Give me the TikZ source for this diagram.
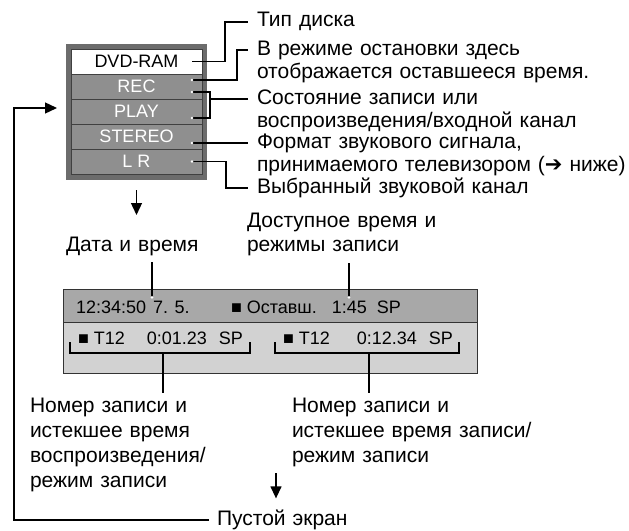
\documentclass[tikz,border=0pt]{standalone}
\usepackage{fontspec}
\setmainfont{Liberation Sans}
\newfontfamily\symfont{DejaVu Sans}
\usetikzlibrary{arrows.meta,positioning}
\definecolor{frameGray}{RGB}{108,108,108}
\definecolor{rowGray}{RGB}{143,143,143}
\definecolor{barGray}{RGB}{168,168,168}
\definecolor{paneGray}{RGB}{210,210,210}

\begin{document}
\begin{tikzpicture}[x=1pt, y=-1pt, line width=1.3pt,
      every node/.style={inner sep=0pt, outer sep=0pt},
      lbl/.style={anchor=base west, align=left, text width=370pt, font=\fontsize{21}{23}\selectfont},
      lowlbl/.style={lbl, font=\fontsize{21}{25}\selectfont},
      row/.style={draw=black!75, line width=0.9pt, fill=rowGray, text=white,
                  minimum width=131pt, minimum height=25pt, font=\fontsize{18}{20}\selectfont},
      osd/.style={anchor=base west, font=\fontsize{18}{22}\selectfont},
      arr/.style={-{Triangle[length=12pt, width=11pt]}}]
      \useasboundingbox (0,0) rectangle (629,530);
      \node[fill=frameGray, minimum width=141pt, minimum height=136pt] (frame) at (136.5,112) {};
      \node[row, fill=white, text=black] (dvd) at (136.5,61.5) {DVD-RAM};
      \node[row, below=0pt of dvd] (rec) {REC};
      \node[row, below=0pt of rec] (play) {PLAY};
      \node[row, below=0pt of play] (stereo) {STEREO};
      \node[row, below=0pt of stereo] (lr) {L R};
      \node[lbl] (disc) at (257,27) {Тип диска};
      \node[lbl] (stop) at (257,55) {В режиме остановки здесь\\отображается оставшееся время.};
      \node[lbl] (state) at (257,104) {Состояние записи или\\воспроизведения/входной канал};
      \node[lbl] (format) at (257,148) {Формат звукового сигнала,\\принимаемого телевизором ({\symfont ➔} ниже)};
      \node[lbl] (chan) at (257,193) {Выбранный звуковой канал};
      \coordinate (pDvd) at ([xshift=-10pt]dvd.east);
      \coordinate (pRec) at ([xshift=-10pt,yshift=6.5pt]rec.east);
      \coordinate (pRecB) at ([xshift=-10pt,yshift=-5.5pt]rec.east);
      \coordinate (pPlay) at ([xshift=-10pt,yshift=-6.5pt]play.east);
      \coordinate (pStereo) at ([xshift=-10pt,yshift=-6.5pt]stereo.east);
      \coordinate (pLr) at ([xshift=-10pt]lr.east);
      \draw (pDvd) -- ++(33,0) |- ([xshift=-9pt,yshift=5pt]disc.base west);
      \draw (pRec) -- ++(45,0) |- ([xshift=-9pt,yshift=5pt]stop.base west);
      \draw (pRecB) -| ([xshift=8pt,yshift=-6.5pt]play.east) -- (pPlay);
      \draw ([xshift=-9pt,yshift=5pt]state.base west) -- ++(-38,0);
      \draw (pStereo) -- ([xshift=-9pt,yshift=5pt]format.base west);
      \draw (pLr) -- ++(34,0) |- ([xshift=-9pt,yshift=5pt]chan.base west);
      \foreach \p in {pRec,pRecB,pPlay,pStereo,pLr}
        \fill[white] (\p) circle (1.4pt);
      \draw[arr] ([yshift=-10pt]frame.south) -- ++(0,25);
      \node[lbl] (date) at (66,251) {Дата и время};
      \node[lbl, font=\fontsize{21}{24}\selectfont] (avail) at (247,227) {Доступное время и\\режимы записи};
      \node[draw=black!80, line width=1pt, fill=barGray, minimum width=414pt, minimum height=33pt,
            anchor=north west] (bar) at (63,289) {};
      \node[draw=black!80, line width=1pt, fill=paneGray, minimum width=414pt, minimum height=51pt,
            below=0pt of bar] (pane) {};
      \node[osd] (clock) at (76,313) {12:34:50\hspace{7pt}7. 5.};
      \node[osd] (remain) at (231,313) {■ Оставш.\hspace{15pt}1:45\hspace{10pt}SP};
      \node[osd] (trackA) at (78,344) {■ T12\hspace{22pt}0:01.23\hspace{12pt}SP};
      \node[osd] (trackB) at (283,344) {■ T12\hspace{27pt}0:12.34\hspace{12pt}SP};
      \draw ([xshift=86pt,yshift=-7pt]date.south west) -- ++(0,35) coordinate (dateEnd);
      \draw ([xshift=102pt,yshift=-8pt]avail.south west) -- ++(0,34) coordinate (availEnd);
      \fill[white] (dateEnd) circle (1.4pt) (availEnd) circle (1.4pt);
      \node[lowlbl] (recA) at (30,412) {Номер записи и\\истекшее время\\воспроизведения/\\режим записи};
      \node[lowlbl] (recB) at (292,412) {Номер записи и\\истекшее время записи/\\режим записи};
      \draw ([xshift=-8pt,yshift=2pt]trackA.base west) |- ([xshift=7pt,yshift=-9pt]trackA.base east) -- ++(0,-11);
      \draw ([xshift=-8pt,yshift=2pt]trackB.base west) |- ([xshift=6pt,yshift=-9pt]trackB.base east) -- ++(0,-11);
      \draw ([xshift=85pt,yshift=-9pt]trackA.base west) -- ([xshift=133pt,yshift=5pt]recA.north west);
      \draw ([xshift=86pt,yshift=-9pt]trackB.base west) -- ([xshift=77pt,yshift=5pt]recB.north west);
      \node[lbl] (blank) at (217,525) {Пустой экран};
      \draw[arr] ([xshift=-16pt,yshift=-7pt]recB.south west) -- ++(0,25);
      \draw[arr] ([xshift=-8pt,yshift=5pt]blank.base west) -| ([xshift=-52pt,yshift=4pt]frame.west)
            -- ([xshift=-9pt,yshift=4pt]frame.west);
    \end{tikzpicture}
\end{document}
